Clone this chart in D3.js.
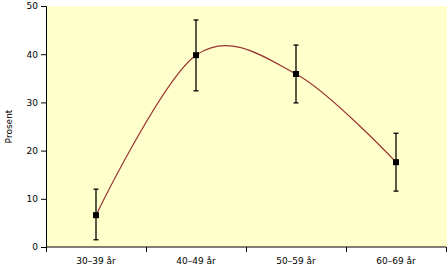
<!DOCTYPE html>
<html>
<head>
<meta charset="utf-8">
<script src="https://cdn.jsdelivr.net/npm/d3@7"></script>
<style>
body { margin: 0; background: #fff; }
text { font-family: "DejaVu Sans", Verdana, sans-serif; font-size: 9px; fill: #000; }
</style>
</head>
<body>
<script>
var categories = ['30\u201339 år', '40\u201349 år', '50\u201359 år', '60\u201369 år'];
var values = [6.6, 39.8, 35.9, 17.6];
var errLow = [1.5, 32.4, 29.9, 11.6];
var errHigh = [12.0, 47.1, 41.9, 23.6];
var yTicks = [0, 10, 20, 30, 40, 50];

var W = 447, H = 269;
var plotL = 46, plotR = 446, plotT = 6, plotB = 247;

var svg = d3.select("body").append("svg").attr("width", W).attr("height", H);

var x = d3.scaleBand().domain(categories).range([plotL, plotR]);
var y = d3.scaleLinear().domain([0, 50]).range([plotB, plotT]);

svg.append("rect")
	.attr("x", plotL).attr("y", plotT)
	.attr("width", plotR - plotL + 1).attr("height", plotB - plotT)
	.attr("fill", "#ffffcc");

// y axis
var yAxis = svg.append("g").attr("transform", "translate(" + plotL + ",0)")
	.call(d3.axisLeft(y).tickValues(yTicks).tickSize(5).tickPadding(3));
yAxis.select(".domain").attr("stroke", "#000");

// x axis with ticks at band edges
var xAxis = svg.append("g").attr("transform", "translate(0," + plotB + ")");
xAxis.append("line").attr("x1", plotL).attr("x2", plotR).attr("stroke", "#000");
xAxis.selectAll("line.tk")
	.data(categories.concat(["end"]))
	.enter().append("line")
	.attr("class", "tk")
	.attr("x1", function(d, i) { return i < categories.length ? x(d) + 0.5 : plotR + 0.5; })
	.attr("x2", function(d, i) { return i < categories.length ? x(d) + 0.5 : plotR + 0.5; })
	.attr("y1", 0).attr("y2", 5)
	.attr("stroke", "#000");
xAxis.selectAll("text.lbl")
	.data(categories)
	.enter().append("text")
	.attr("class", "lbl")
	.attr("x", function(d) { return x(d) + x.bandwidth() / 2; })
	.attr("y", 17)
	.attr("text-anchor", "middle")
	.text(function(d) { return d; });

svg.append("text")
	.attr("transform", "translate(9," + ((plotT + plotB) / 2) + ") rotate(-90)")
	.attr("text-anchor", "middle")
	.attr("dominant-baseline", "middle")
	.text("Prosent");

// smoothed line
var cx = function(i) { return x(categories[i]) + x.bandwidth() / 2; };
var line = d3.line()
	.x(function(d, i) { return cx(i); })
	.y(function(d) { return y(d); })
	.curve(d3.curveCatmullRom.alpha(0));
svg.append("path")
	.datum(values)
	.attr("d", line)
	.attr("fill", "none")
	.attr("stroke", "#993333")
	.attr("stroke-width", 1.2);

// error bars
var eb = svg.selectAll("g.eb").data(values).enter().append("g").attr("class", "eb");
eb.append("line")
	.attr("x1", function(d, i) { return cx(i); })
	.attr("x2", function(d, i) { return cx(i); })
	.attr("y1", function(d, i) { return y(errLow[i]); })
	.attr("y2", function(d, i) { return y(errHigh[i]); })
	.attr("stroke", "#000").attr("stroke-width", 1.3);
eb.append("line")
	.attr("x1", function(d, i) { return cx(i) - 2.5; })
	.attr("x2", function(d, i) { return cx(i) + 2.5; })
	.attr("y1", function(d, i) { return y(errLow[i]); })
	.attr("y2", function(d, i) { return y(errLow[i]); })
	.attr("stroke", "#000").attr("stroke-width", 1.3);
eb.append("line")
	.attr("x1", function(d, i) { return cx(i) - 2.5; })
	.attr("x2", function(d, i) { return cx(i) + 2.5; })
	.attr("y1", function(d, i) { return y(errHigh[i]); })
	.attr("y2", function(d, i) { return y(errHigh[i]); })
	.attr("stroke", "#000").attr("stroke-width", 1.3);
eb.append("rect")
	.attr("x", function(d, i) { return cx(i) - 3; })
	.attr("y", function(d) { return y(d) - 3; })
	.attr("width", 6).attr("height", 6)
	.attr("fill", "#000");
</script>
</body>
</html>
